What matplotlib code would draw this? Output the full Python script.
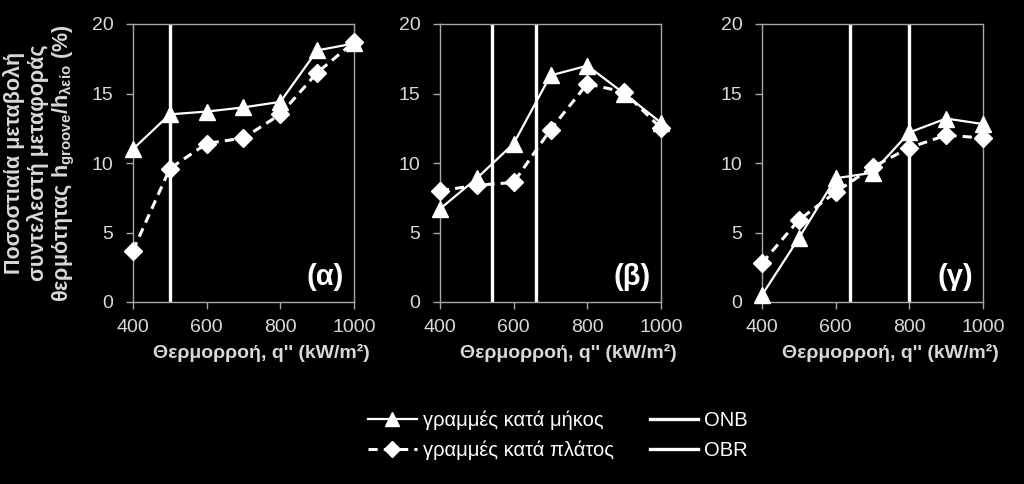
import numpy as np
import matplotlib
matplotlib.use("Agg")
import matplotlib.pyplot as plt
from matplotlib.lines import Line2D

plt.rcParams['font.family'] = ['Liberation Sans', 'DejaVu Sans']
plt.rcParams['mathtext.fontset'] = 'custom'
plt.rcParams['mathtext.rm'] = 'Liberation Sans:bold'
plt.rcParams['mathtext.bf'] = 'Liberation Sans:bold'

q = [400, 500, 600, 700, 800, 900, 1000]

# (α)
a_len = [11.0, 13.5, 13.7, 14.0, 14.4, 18.1, 18.6]
a_wid = [3.7, 9.6, 11.4, 11.8, 13.5, 16.5, 18.7]
a_onb = [500]

# (β)
b_len = [6.7, 8.9, 11.4, 16.3, 17.0, 15.0, 12.9]
b_wid = [8.0, 8.4, 8.6, 12.4, 15.7, 15.1, 12.5]
b_onb = [540, 660]

# (γ)
c_len = [0.5, 4.6, 8.9, 9.3, 12.2, 13.2, 12.8]
c_wid = [2.8, 5.9, 7.9, 9.7, 11.1, 12.0, 11.8]
c_onb = [640, 800]

panels = [
    ("(α)", a_len, a_wid, a_onb, 133),
    ("(β)", b_len, b_wid, b_onb, 440),
    ("(γ)", c_len, c_wid, c_onb, 762),
]

fig = plt.figure(figsize=(10.24, 4.84), dpi=100)
fig.patch.set_facecolor('black')

spine_col = '#a6a6a6'
tick_col = '#d9d9d9'

for label, ylen, ywid, vlines, left_px in panels:
    ax = fig.add_axes([left_px / 1024, 1 - 302 / 484, 221 / 1024, 278 / 484])
    ax.set_facecolor('black')
    for v in vlines:
        ax.axvline(v, color='white', lw=2.4, zorder=1)
    ax.plot(q, ywid, color='white', lw=2.2, ls=(0, (3, 2)), marker='D',
            ms=9, mfc='white', mec='white', zorder=3, clip_on=False)
    ax.plot(q, ylen, color='white', lw=1.6, marker='^', ms=12,
            mfc='white', mec='white', zorder=4, clip_on=False)
    ax.set_xlim(400, 1000)
    ax.set_ylim(0, 20)
    ax.set_xticks([400, 600, 800, 1000])
    ax.set_yticks([0, 5, 10, 15, 20])
    for s in ax.spines.values():
        s.set_color(spine_col)
        s.set_linewidth(1)
    ax.tick_params(colors=spine_col, labelcolor=tick_col, labelsize=14,
                   length=5, width=1, direction='out')
    ax.tick_params(axis='y', pad=9)
    ax.tick_params(axis='x', pad=7)
    ax.set_xlabel("Θερμορροή, q'' (kW/m²)", color=tick_col, fontsize=14,
                  fontweight='bold', labelpad=6)
    ax.xaxis.label.set_x(0.58)
    ax.text(0.955, 0.04, label, transform=ax.transAxes, ha='right', va='bottom',
            color='white', fontsize=21, fontweight='bold')

fig.text(0.039, 1 - 163 / 484,
         "Ποσοστιαία μεταβολή\nσυντελεστή μεταφοράς\n"
         "θερμότητας h$_{\\mathregular{groove}}$/h$_{\\mathregular{λείο}}$ (%)",
         rotation=90, ha='center', va='center', ma='center', color=tick_col,
         fontsize=15.5, fontweight='bold', linespacing=1.12)

handles = [
    Line2D([], [], color='white', lw=1.6, marker='^', ms=10, mfc='white', mec='white'),
    Line2D([], [], color='white', lw=2.2, ls=(0, (3, 2)), marker='D', ms=8, mfc='white', mec='white'),
    Line2D([], [], color='white', lw=2.4),
    Line2D([], [], color='white', lw=2.4),
]
labels = ["γραμμές κατά μήκος", "γραμμές κατά πλάτος", "ONB", "OBR"]
leg = fig.legend(handles, labels, ncol=2, loc='center', bbox_to_anchor=(0.545, 0.101),
                 frameon=False, fontsize=14.5, labelcolor='white', handlelength=2.4,
                 handletextpad=0.3, columnspacing=1.8, labelspacing=0.55)

fig.savefig("out.png", dpi=100, facecolor='black')
